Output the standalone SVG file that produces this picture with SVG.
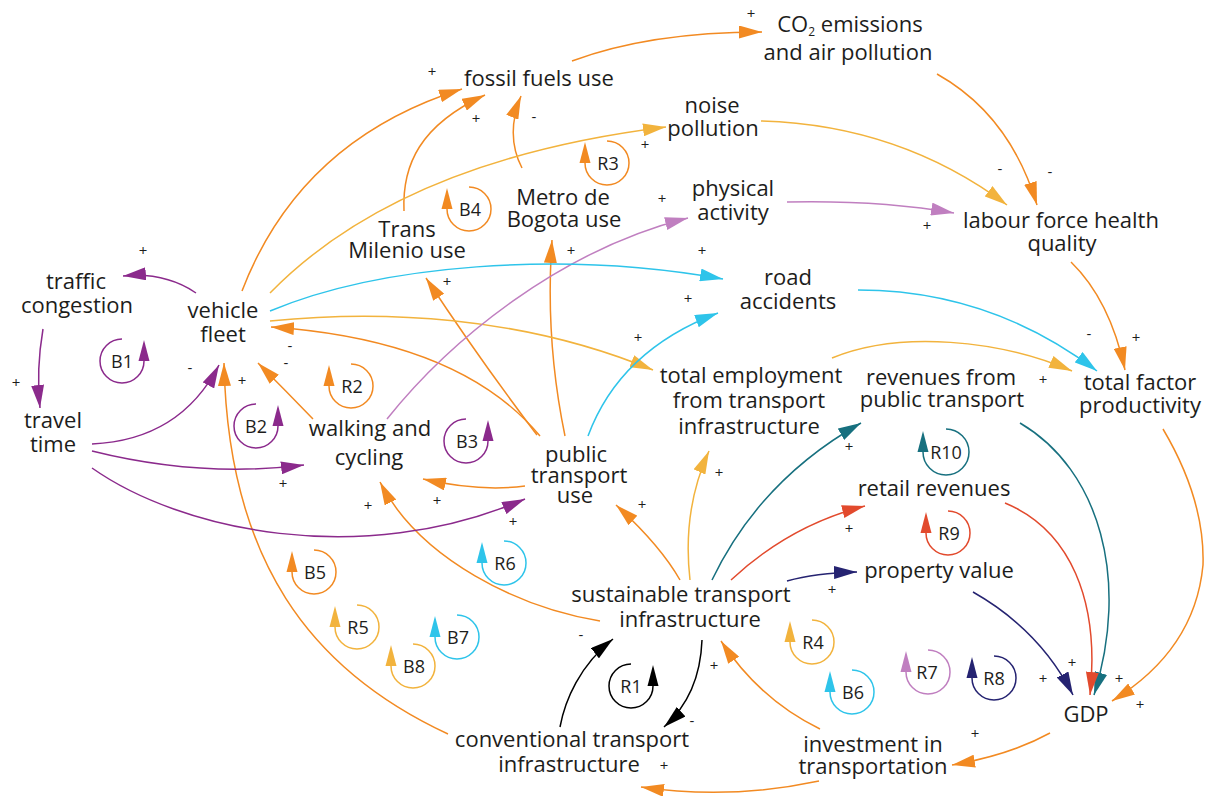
<svg xmlns="http://www.w3.org/2000/svg" width="1211" height="796" viewBox="0 0 1211 796">
<style>
.n{font-family:"Open Sans","Liberation Sans",sans-serif;font-size:22px;fill:#1d1d1b;text-anchor:middle}
.s{font-family:"Open Sans","Liberation Sans",sans-serif;font-size:15px;fill:#1d1d1b;text-anchor:middle}
.lt{font-family:"Open Sans","Liberation Sans",sans-serif;font-size:18px;fill:#1d1d1b;text-anchor:middle}
.e{fill:none;stroke-width:1.5}
.o{stroke:#F28A22}.y{stroke:#F2B33D}.p{stroke:#8B2A8C}.l{stroke:#C07FC0}.c{stroke:#2EC4EA}.t{stroke:#17707F}.r{stroke:#E24A2D}.v{stroke:#252371}.k{stroke:#000}
.fo{fill:#F28A22}.fy{fill:#F2B33D}.fp{fill:#8B2A8C}.fl{fill:#C07FC0}.fc{fill:#2EC4EA}.ft{fill:#17707F}.fr{fill:#E24A2D}.fv{fill:#252371}.fk{fill:#000}
</style>
<defs>
<marker id="mo" markerUnits="userSpaceOnUse" markerWidth="23" markerHeight="13" viewBox="0 0 23 13" refX="23" refY="6.5" orient="auto"><path d="M0,0L23,6.5L0,13Z" class="fo"/></marker>
<marker id="my" markerUnits="userSpaceOnUse" markerWidth="23" markerHeight="13" viewBox="0 0 23 13" refX="23" refY="6.5" orient="auto"><path d="M0,0L23,6.5L0,13Z" class="fy"/></marker>
<marker id="mp" markerUnits="userSpaceOnUse" markerWidth="23" markerHeight="13" viewBox="0 0 23 13" refX="23" refY="6.5" orient="auto"><path d="M0,0L23,6.5L0,13Z" class="fp"/></marker>
<marker id="ml" markerUnits="userSpaceOnUse" markerWidth="23" markerHeight="13" viewBox="0 0 23 13" refX="23" refY="6.5" orient="auto"><path d="M0,0L23,6.5L0,13Z" class="fl"/></marker>
<marker id="mc" markerUnits="userSpaceOnUse" markerWidth="23" markerHeight="13" viewBox="0 0 23 13" refX="23" refY="6.5" orient="auto"><path d="M0,0L23,6.5L0,13Z" class="fc"/></marker>
<marker id="mt" markerUnits="userSpaceOnUse" markerWidth="23" markerHeight="13" viewBox="0 0 23 13" refX="23" refY="6.5" orient="auto"><path d="M0,0L23,6.5L0,13Z" class="ft"/></marker>
<marker id="mr" markerUnits="userSpaceOnUse" markerWidth="23" markerHeight="13" viewBox="0 0 23 13" refX="23" refY="6.5" orient="auto"><path d="M0,0L23,6.5L0,13Z" class="fr"/></marker>
<marker id="mv" markerUnits="userSpaceOnUse" markerWidth="23" markerHeight="13" viewBox="0 0 23 13" refX="23" refY="6.5" orient="auto"><path d="M0,0L23,6.5L0,13Z" class="fv"/></marker>
<marker id="mk" markerUnits="userSpaceOnUse" markerWidth="23" markerHeight="13" viewBox="0 0 23 13" refX="23" refY="6.5" orient="auto"><path d="M0,0L23,6.5L0,13Z" class="fk"/></marker>
</defs>
<rect width="1211" height="796" fill="#fff"/>

<g id="connectors">
<path class="e o" marker-end="url(#mo)" d="M242,291 Q300,140 462,89"/>
<path class="e o" marker-end="url(#mo)" d="M404,211 C402,165 420,125 485,95"/>
<path class="e o" marker-end="url(#mo)" d="M522,168 Q505,135 521,96"/>
<path class="e o" marker-end="url(#mo)" d="M572,61 Q650,32 762,32"/>
<path class="e o" marker-end="url(#mo)" d="M937,74 Q1010,115 1037,205"/>
<path class="e o" marker-end="url(#mo)" d="M1071,262 Q1110,300 1125,370"/>
<path class="e o" marker-end="url(#mo)" d="M1163,429 Q1205,500 1203,565 Q1195,650 1112,701"/>
<path class="e o" marker-end="url(#mo)" d="M1050,733 Q1010,755 952,765"/>
<path class="e o" marker-end="url(#mo)" d="M819,781 Q730,800 641,787"/>
<path class="e o" marker-end="url(#mo)" d="M820,729 Q760,700 721,641"/>
<path class="e o" marker-end="url(#mo)" d="M680,580 Q660,545 616,505"/>
<path class="e o" marker-end="url(#mo)" d="M600,621 C520,608 420,560 380,482"/>
<path class="e o" marker-end="url(#mo)" d="M448,734 C310,670 228,560 224,363"/>
<path class="e o" marker-end="url(#mo)" d="M313,419 Q285,390 258,363"/>
<path class="e o" marker-end="url(#mo)" d="M540,436 Q460,340 271,327"/>
<path class="e o" marker-end="url(#mo)" d="M537,435 Q480,360 426,278"/>
<path class="e o" marker-end="url(#mo)" d="M565,436 Q545,340 552,240"/>
<path class="e o" marker-end="url(#mo)" d="M525,486 Q480,492 423,479"/>
<path class="e y" marker-end="url(#my)" d="M270,293 Q400,160 666,127"/>
<path class="e y" marker-end="url(#my)" d="M761,121 Q900,125 1007,205"/>
<path class="e y" marker-end="url(#my)" d="M270,321 C380,310 520,315 653,370"/>
<path class="e y" marker-end="url(#my)" d="M690,580 Q682,510 709,451"/>
<path class="e y" marker-end="url(#my)" d="M832,358 C900,330 1000,340 1072,371"/>
<path class="e l" marker-end="url(#ml)" d="M387,419 C450,340 560,250 688,218"/>
<path class="e l" marker-end="url(#ml)" d="M787,202 Q880,200 954,213"/>
<path class="e c" marker-end="url(#mc)" d="M270,311 C380,265 560,250 723,279"/>
<path class="e c" marker-end="url(#mc)" d="M588,436 Q620,350 718,313"/>
<path class="e c" marker-end="url(#mc)" d="M858,290 Q990,290 1097,371"/>
<path class="e p" marker-end="url(#mp)" d="M196,293 Q165,272 123,276"/>
<path class="e p" marker-end="url(#mp)" d="M43,329 Q36,370 40,408"/>
<path class="e p" marker-end="url(#mp)" d="M92,444 Q180,440 219,365"/>
<path class="e p" marker-end="url(#mp)" d="M92,451 Q200,478 304,465"/>
<path class="e p" marker-end="url(#mp)" d="M92,468 C180,530 360,570 525,499"/>
<path class="e t" marker-end="url(#mt)" d="M712,580 Q760,480 861,423"/>
<path class="e t" marker-end="url(#mt)" d="M1020,423 C1100,470 1130,580 1094,695"/>
<path class="e r" marker-end="url(#mr)" d="M731,580 Q790,525 865,506"/>
<path class="e r" marker-end="url(#mr)" d="M1005,503 C1070,530 1100,600 1090,695"/>
<path class="e v" marker-end="url(#mv)" d="M787,581 Q815,573 857,572"/>
<path class="e v" marker-end="url(#mv)" d="M973,592 Q1040,630 1073,695"/>
<path class="e k" marker-end="url(#mk)" d="M560,727 C565,700 580,665 613,639"/>
<path class="e k" marker-end="url(#mk)" d="M702,640 Q700,695 664,727"/>
</g>

<g id="polarities">
<text class="s" x="432" y="77">+</text>
<text class="s" x="476" y="124">+</text>
<text class="s" x="534" y="122">-</text>
<text class="s" x="751" y="19">+</text>
<text class="s" x="645" y="150">+</text>
<text class="s" x="1000" y="174">-</text>
<text class="s" x="1050" y="177">-</text>
<text class="s" x="662" y="204">+</text>
<text class="s" x="927" y="231">+</text>
<text class="s" x="702" y="256">+</text>
<text class="s" x="571" y="256">+</text>
<text class="s" x="143" y="256">+</text>
<text class="s" x="447" y="287">+</text>
<text class="s" x="688" y="304">+</text>
<text class="s" x="290" y="351">-</text>
<text class="s" x="286" y="368">-</text>
<text class="s" x="190" y="373">-</text>
<text class="s" x="242" y="386">+</text>
<text class="s" x="638" y="343">+</text>
<text class="s" x="1089" y="339">-</text>
<text class="s" x="1136" y="343">+</text>
<text class="s" x="16" y="388">+</text>
<text class="s" x="1043" y="385">+</text>
<text class="s" x="849" y="452">+</text>
<text class="s" x="719" y="478">+</text>
<text class="s" x="283" y="489">+</text>
<text class="s" x="368" y="511">+</text>
<text class="s" x="437" y="506">+</text>
<text class="s" x="513" y="527">+</text>
<text class="s" x="642" y="510">+</text>
<text class="s" x="849" y="534">+</text>
<text class="s" x="832" y="595">+</text>
<text class="s" x="581" y="640">-</text>
<text class="s" x="714" y="671">+</text>
<text class="s" x="692" y="726">-</text>
<text class="s" x="664" y="771">+</text>
<text class="s" x="975" y="739">+</text>
<text class="s" x="1072" y="668">+</text>
<text class="s" x="1043" y="684">+</text>
<text class="s" x="1119" y="684">+</text>
<text class="s" x="1140" y="710">+</text>
</g>

<g id="loops">
<g id="loop-B1"><path class="e p" d="M122,339 A22,22 0 1 0 144,361"/><path class="fp" d="M138.5,361L149.5,361L144,340Z"/><text class="lt" x="122" y="368">B1</text></g>
<g id="loop-B2"><path class="e p" d="M256,404 A22,22 0 1 0 278,426"/><path class="fp" d="M272.5,426L283.5,426L278,405Z"/><text class="lt" x="256" y="433">B2</text></g>
<g id="loop-B3"><path class="e p" d="M466,419 A22,22 0 1 0 488,441"/><path class="fp" d="M482.5,441L493.5,441L488,420Z"/><text class="lt" x="467" y="448">B3</text></g>
<g id="loop-R1"><path class="e k" d="M631,664 A22,22 0 1 0 653,686"/><path class="fk" d="M647.5,686L658.5,686L653,665Z"/><text class="lt" x="631" y="693">R1</text></g>
<g id="loop-R2"><path class="e o" d="M351,364 A22,22 0 1 1 329,386"/><path class="fo" d="M323.5,386L334.5,386L329,365Z"/><text class="lt" x="352" y="393">R2</text></g>
<g id="loop-B4"><path class="e o" d="M469,187 A22,22 0 1 1 447,209"/><path class="fo" d="M441.5,209L452.5,209L447,188Z"/><text class="lt" x="470" y="216">B4</text></g>
<g id="loop-R3"><path class="e o" d="M607,141 A22,22 0 1 1 585,163"/><path class="fo" d="M579.5,163L590.5,163L585,142Z"/><text class="lt" x="608" y="170">R3</text></g>
<g id="loop-B5"><path class="e o" d="M314,550 A22,22 0 1 1 292,572"/><path class="fo" d="M286.5,572L297.5,572L292,551Z"/><text class="lt" x="315" y="579">B5</text></g>
<g id="loop-R5"><path class="e y" d="M357,605 A22,22 0 1 1 335,627"/><path class="fy" d="M329.5,627L340.5,627L335,606Z"/><text class="lt" x="358" y="634">R5</text></g>
<g id="loop-B8"><path class="e y" d="M413,644 A22,22 0 1 1 391,666"/><path class="fy" d="M385.5,666L396.5,666L391,645Z"/><text class="lt" x="414" y="673">B8</text></g>
<g id="loop-B7"><path class="e c" d="M457,615 A22,22 0 1 1 435,637"/><path class="fc" d="M429.5,637L440.5,637L435,616Z"/><text class="lt" x="458" y="644">B7</text></g>
<g id="loop-R6"><path class="e c" d="M504,541 A22,22 0 1 1 482,563"/><path class="fc" d="M476.5,563L487.5,563L482,542Z"/><text class="lt" x="505" y="570">R6</text></g>
<g id="loop-R4"><path class="e y" d="M812,620 A22,22 0 1 1 790,642"/><path class="fy" d="M784.5,642L795.5,642L790,621Z"/><text class="lt" x="813" y="649">R4</text></g>
<g id="loop-B6"><path class="e c" d="M852,670 A22,22 0 1 1 830,692"/><path class="fc" d="M824.5,692L835.5,692L830,671Z"/><text class="lt" x="853" y="699">B6</text></g>
<g id="loop-R7"><path class="e l" d="M928,650 A22,22 0 1 1 906,672"/><path class="fl" d="M900.5,672L911.5,672L906,651Z"/><text class="lt" x="927" y="679">R7</text></g>
<g id="loop-R8"><path class="e v" d="M994,656 A22,22 0 1 1 972,678"/><path class="fv" d="M966.5,678L977.5,678L972,657Z"/><text class="lt" x="994" y="685">R8</text></g>
<g id="loop-R9"><path class="e r" d="M948,511 A22,22 0 1 1 926,533"/><path class="fr" d="M920.5,533L931.5,533L926,512Z"/><text class="lt" x="949" y="540">R9</text></g>
<g id="loop-R10"><path class="e t" d="M946,429 A23,23 0 1 1 923,452"/><path class="ft" d="M917.5,452L928.5,452L923,431Z"/><text class="lt" x="946" y="459">R10</text></g>
</g>

<g id="node-fossil-fuels"><text class="n" x="539" y="86">fossil fuels use</text></g>
<g id="node-co2"><text class="n"><tspan x="850" y="32">CO</tspan><tspan font-size="12" dy="4">2</tspan><tspan dy="-4"> emissions</tspan><tspan x="848" y="60">and air pollution</tspan></text></g>
<g id="node-noise"><text class="n"><tspan x="712" y="113">noise</tspan><tspan x="713" y="136">pollution</tspan></text></g>
<g id="node-physical"><text class="n"><tspan x="733" y="196">physical</tspan><tspan x="733" y="220">activity</tspan></text></g>
<g id="node-labour"><text class="n"><tspan x="1061" y="228">labour force health</tspan><tspan x="1062" y="251">quality</tspan></text></g>
<g id="node-metro"><text class="n"><tspan x="563" y="205">Metro de</tspan><tspan x="564" y="227">Bogota use</tspan></text></g>
<g id="node-transmilenio"><text class="n"><tspan x="407" y="237">Trans</tspan><tspan x="407" y="258">Milenio use</tspan></text></g>
<g id="node-traffic"><text class="n"><tspan x="76" y="289">traffic</tspan><tspan x="77" y="313">congestion</tspan></text></g>
<g id="node-vehicle"><text class="n"><tspan x="223" y="318">vehicle</tspan><tspan x="223" y="342">fleet</tspan></text></g>
<g id="node-road"><text class="n"><tspan x="788" y="285">road</tspan><tspan x="788" y="309">accidents</tspan></text></g>
<g id="node-travel"><text class="n"><tspan x="53" y="428">travel</tspan><tspan x="53" y="452">time</tspan></text></g>
<g id="node-walking"><text class="n"><tspan x="370" y="436">walking and</tspan><tspan x="369" y="465">cycling</tspan></text></g>
<g id="node-public"><text class="n"><tspan x="576" y="462">public</tspan><tspan x="579" y="483">transport</tspan><tspan x="575" y="503">use</tspan></text></g>
<g id="node-employment"><text class="n"><tspan x="751" y="383">total employment</tspan><tspan x="749" y="408">from transport</tspan><tspan x="749" y="434">infrastructure</tspan></text></g>
<g id="node-revenues"><text class="n"><tspan x="941" y="385">revenues from</tspan><tspan x="942" y="407">public transport</tspan></text></g>
<g id="node-tfp"><text class="n"><tspan x="1140" y="390">total factor</tspan><tspan x="1140" y="413">productivity</tspan></text></g>
<g id="node-retail"><text class="n" x="934" y="496">retail revenues</text></g>
<g id="node-property"><text class="n" x="939" y="578">property value</text></g>
<g id="node-sustainable"><text class="n"><tspan x="681" y="602">sustainable transport</tspan><tspan x="690" y="627">infrastructure</tspan></text></g>
<g id="node-conventional"><text class="n"><tspan x="572" y="747">conventional transport</tspan><tspan x="569" y="772">infrastructure</tspan></text></g>
<g id="node-investment"><text class="n"><tspan x="873" y="752">investment in</tspan><tspan x="873" y="774">transportation</tspan></text></g>
<g id="node-gdp"><text class="n" x="1086" y="722">GDP</text></g>
</svg>
